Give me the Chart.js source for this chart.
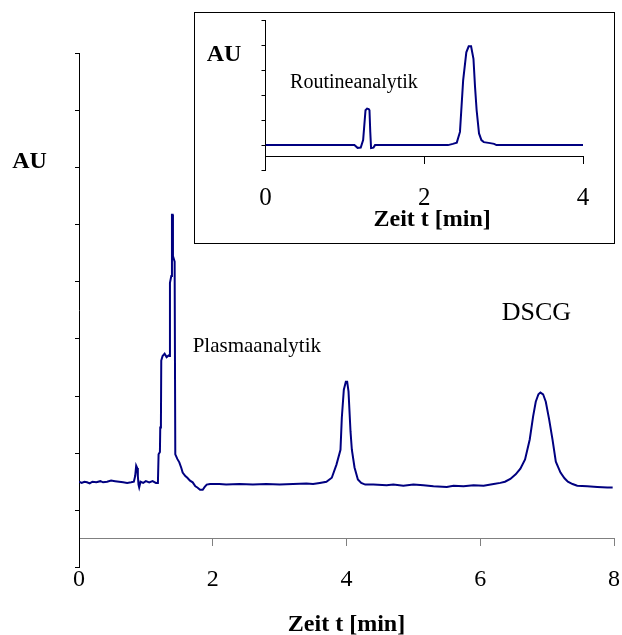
<!DOCTYPE html>
<html>
<head>
<meta charset="utf-8">
<script src="https://cdn.jsdelivr.net/npm/chart.js@4/dist/chart.umd.min.js"></script>
<style>
  html, body { margin: 0; background: #fff; }
  #wrap { position: relative; width: 622px; height: 635px; }
  #inset { position: absolute; left: 194px; top: 12px; width: 421px; height: 232px;
           box-sizing: border-box; border: 1px solid #000; background: #fff; }
  canvas { display: block; }
</style>
</head>
<body>
<div id="wrap">
  <canvas id="main" width="622" height="635"></canvas>
  <div id="inset"><canvas id="small" width="419" height="230"></canvas></div>
</div>
<script>
// Plasma chromatogram (min, AU)
const plasmaTime = [
  0.00, 0.04, 0.08, 0.12, 0.16, 0.20, 0.26, 0.32, 0.36, 0.42, 0.48, 0.54, 0.60, 0.66, 0.72, 0.78,
  0.82, 0.84, 0.855, 0.87, 0.88, 0.89, 0.90, 0.92, 0.96, 1.00, 1.05, 1.10, 1.15, 1.18,
  1.19, 1.21, 1.215, 1.225, 1.23, 1.25, 1.28, 1.31, 1.34, 1.355, 1.36, 1.38, 1.39, 1.40, 1.405, 1.43,
  1.44, 1.47, 1.50, 1.53, 1.55, 1.59, 1.62, 1.66, 1.70, 1.74, 1.77, 1.81, 1.85, 1.88, 1.91, 1.96,
  2.10, 2.20, 2.40, 2.60, 2.80, 3.00, 3.20, 3.40, 3.50, 3.60, 3.70,
  3.78, 3.85, 3.91, 3.93, 3.96, 3.99, 4.01, 4.03, 4.06, 4.08, 4.12, 4.17, 4.22, 4.28,
  4.40, 4.60, 4.70, 4.85, 5.00, 5.15, 5.30, 5.50, 5.60, 5.75, 5.90, 6.05, 6.20, 6.30,
  6.37, 6.45, 6.53, 6.60, 6.67, 6.74, 6.79, 6.83, 6.87, 6.90, 6.94, 6.98, 7.03, 7.08, 7.13,
  7.20, 7.26, 7.31, 7.38, 7.45, 7.60, 7.75, 7.90, 7.98
];
const plasmaAU = [
  1.50, 1.48, 1.50, 1.49, 1.47, 1.50, 1.49, 1.51, 1.49, 1.50, 1.52, 1.51, 1.50, 1.49, 1.48, 1.49,
  1.50, 1.60, 1.78, 1.74, 1.60, 1.45, 1.40, 1.50, 1.48, 1.51, 1.49, 1.51, 1.48, 1.48,
  1.98, 2.02, 2.45, 2.50, 3.62, 3.70, 3.74, 3.68, 3.71, 3.70, 4.98, 5.10, 6.17, 6.17, 5.45, 5.35,
  1.98, 1.90, 1.84, 1.74, 1.66, 1.60, 1.57, 1.52, 1.49, 1.42, 1.40, 1.36, 1.36, 1.41, 1.45, 1.46,
  1.46, 1.45, 1.46, 1.45, 1.46, 1.45, 1.46, 1.47, 1.46, 1.48, 1.50,
  1.57, 1.80, 2.06, 2.62, 3.11, 3.25, 3.25, 3.08, 2.38, 2.06, 1.75, 1.54, 1.48, 1.45,
  1.45, 1.44, 1.45, 1.43, 1.45, 1.44, 1.42, 1.41, 1.43, 1.42, 1.44, 1.43, 1.46, 1.48,
  1.50, 1.55, 1.63, 1.73, 1.89, 2.24, 2.64, 2.90, 3.03, 3.06, 3.03, 2.90, 2.59, 2.24, 1.85,
  1.66, 1.56, 1.50, 1.46, 1.43, 1.42, 1.41, 1.40, 1.40
];

// Routine chromatogram (min, AU)
const routineTime = [
  0.00, 0.50, 1.00, 1.12, 1.16, 1.20, 1.23, 1.26, 1.28, 1.30, 1.31, 1.32, 1.33, 1.36, 1.38,
  1.60, 2.00, 2.30, 2.36, 2.41, 2.45, 2.49, 2.53, 2.56, 2.59, 2.62, 2.64, 2.66, 2.69,
  2.72, 2.75, 2.83, 2.88, 2.91, 3.50, 4.00
];
const routineAU = [
  1.00, 1.00, 1.00, 1.00, 0.89, 0.90, 1.20, 2.40, 2.47, 2.45, 2.40, 1.53, 0.88, 0.90, 1.00,
  1.00, 1.00, 1.00, 1.05, 1.10, 1.53, 3.60, 4.73, 4.97, 4.97, 4.47, 3.33, 2.40, 1.47,
  1.20, 1.12, 1.08, 1.05, 1.00, 1.00, 1.00
];

const plasmaTicks = [0, 2, 4, 6, 8];
const routineTicks = [0, 2, 4];

// text placed in data units of each chart
const plasmaNotes = [
  { text: 'AU', t: -1.0, au: 6.99, size: 24, bold: true },
  { text: 'Plasmaanalytik', t: 1.70, au: 3.77, size: 21 },
  { text: 'DSCG', t: 6.32, au: 4.33, size: 26 },
  { text: 'Zeit t [min]', t: 4.0, au: -1.11, size: 24, bold: true, align: 'center' }
];
const routineNotes = [
  { text: 'AU', t: -0.74, au: 4.40, size: 24, bold: true },
  { text: 'Routineanalytik', t: 0.31, au: 3.30, size: 20 },
  { text: 'Zeit t [min]', t: 2.10, au: -2.25, size: 24, bold: true, align: 'center' }
];

const serif = '"Liberation Serif", "Times New Roman", serif';
const traceColor = '#000080';

const pts = (xs, ys) => xs.map((t, i) => ({ x: t, y: ys[i] }));

const notesPlugin = {
  id: 'notes',
  afterDraw(chart, args, opts) {
    const { ctx, scales: { x, y } } = chart;
    ctx.save();
    ctx.fillStyle = '#000';
    ctx.textBaseline = 'alphabetic';
    opts.items.forEach((n) => {
      ctx.font = `${n.bold ? 'bold ' : ''}${n.size}px ${serif}`;
      ctx.textAlign = n.align || 'left';
      ctx.fillText(n.text, x.getPixelForValue(n.t), y.getPixelForValue(n.au));
    });
    ctx.restore();
  }
};

function drawTrace(canvas, cfg) {
  return new Chart(canvas, {
    type: 'line',
    data: { datasets: [{ data: cfg.data, borderColor: traceColor, borderWidth: 2, pointRadius: 0, tension: 0, fill: false }] },
    options: {
      responsive: false,
      animation: false,
      layout: { padding: cfg.padding },
      plugins: { legend: { display: false }, tooltip: { enabled: false }, notes: { items: cfg.notes } },
      scales: {
        x: {
          type: 'linear', min: 0, max: cfg.xMax,
          position: { y: cfg.cross },
          border: { color: cfg.xAxisColor, width: 1 },
          grid: { drawOnChartArea: false, tickLength: 7, color: cfg.xAxisColor },
          afterBuildTicks: (s) => { s.ticks = cfg.ticks.map((v) => ({ value: v })); },
          // end labels may overhang the plot edge, don't let them shrink it
          afterFit: (s) => { s.paddingLeft = 0; s.paddingRight = 0; },
          ticks: { padding: cfg.tickPad, color: '#000', font: { family: serif, size: cfg.tickSize } }
        },
        y: {
          min: 0, max: cfg.yMax,
          border: { color: '#000', width: 1 },
          grid: { drawOnChartArea: false, tickLength: 4, color: '#000' },
          ticks: { display: false, stepSize: 1 }
        }
      }
    },
    plugins: [notesPlugin]
  });
}

drawTrace(document.getElementById('main'), {
  data: pts(plasmaTime, plasmaAU),
  notes: plasmaNotes,
  ticks: plasmaTicks,
  xMax: 8, yMax: 9, cross: 0.5,
  xAxisColor: '#808080',
  tickPad: 19, tickSize: 24,
  padding: { left: 75, right: 8, top: 53, bottom: 67.5 }
});

drawTrace(document.getElementById('small'), {
  data: pts(routineTime, routineAU),
  notes: routineNotes,
  ticks: routineTicks,
  xMax: 4, yMax: 6, cross: 0.55,
  xAxisColor: '#000',
  tickPad: 20, tickSize: 25,
  padding: { left: 66.5, right: 31, top: 7.7, bottom: 73 }
});
</script>
</body>
</html>
